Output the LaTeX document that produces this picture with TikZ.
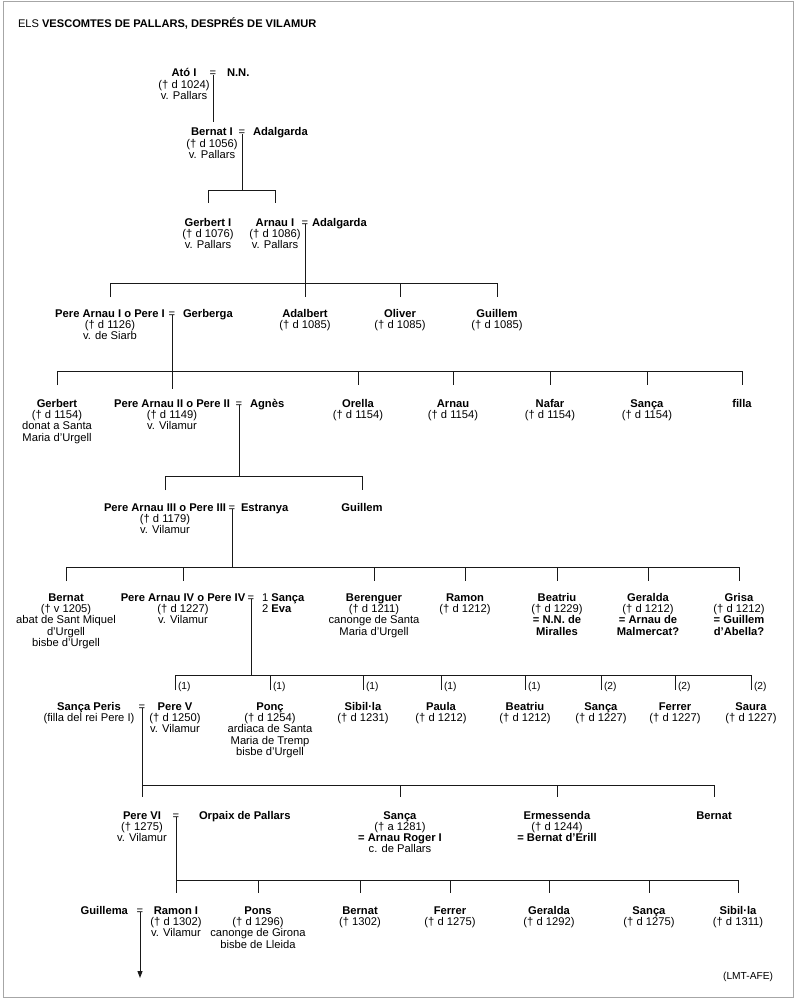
\documentclass[tikz,border=0pt]{standalone}
\usepackage{fontspec}
\setmainfont{Liberation Sans}
\usetikzlibrary{arrows.meta}
\newcommand\famblock[1]{\begin{tabular}[t]{@{}c@{}}#1\end{tabular}}
\newcommand\famleft[1]{\begin{tabular}[t]{@{}l@{}}#1\end{tabular}}
\begin{document}
\begin{tikzpicture}[x=1pt,y=-1pt,
  every node/.style={inner sep=0pt, outer sep=0pt, font=\fontsize{11.2}{11}\selectfont},
  pers/.style={anchor=base},
  spouse/.style={anchor=base west},
  eqs/.style={anchor=base},
  lab/.style={anchor=base west, font=\fontsize{10.2}{11}\selectfont},
  ln/.style={line width=1pt, black!90}]
\useasboundingbox (0,0) rectangle (800,1000);
\draw[black!35, line width=1pt] (3,2) rectangle (793,997);

\node[anchor=base west, font=\fontsize{11.1}{12}\selectfont] (title) at (18,28) {ELS \textbf{VESCOMTES DE PALLARS, DESPRÉS DE VILAMUR}};

% Row 1
\node[pers] (ato) at (184,77) {\famblock{\textbf{Ató I}\\(† d 1024)\\v. Pallars}};
\node[eqs] (eq1) at (213,77) {=};
\node[spouse] (nn) at (227,77) {\textbf{N.N.}};

% Row 2
\node[pers] (bernat1) at (212,136) {\famblock{\textbf{Bernat I}\\(† d 1056)\\v. Pallars}};
\node[eqs] (eq2) at (242,136) {=};
\node[spouse] (adal1) at (253,136) {\textbf{Adalgarda}};

% Row 3
\node[pers] (gerbert1) at (208,226) {\famblock{\textbf{Gerbert I}\\(† d 1076)\\v. Pallars}};
\node[pers] (arnau1) at (275,226) {\famblock{\textbf{Arnau I}\\(† d 1086)\\v. Pallars}};
\node[eqs] (eq3) at (305,226) {=};
\node[spouse] (adal2) at (312,226) {\textbf{Adalgarda}};

% Row 4
\node[pers] (pa1) at (110,317) {\famblock{\textbf{Pere Arnau I o Pere I}\\(† d 1126)\\v. de Siarb}};
\node[eqs] (eq4) at (172,317) {=};
\node[spouse] (gerberga) at (183,317) {\textbf{Gerberga}};
\node[pers] (adalbert) at (305,317) {\famblock{\textbf{Adalbert}\\(† d 1085)}};
\node[pers] (oliver) at (400,317) {\famblock{\textbf{Oliver}\\(† d 1085)}};
\node[pers] (guillem1) at (497,317) {\famblock{\textbf{Guillem}\\(† d 1085)}};

% Row 5
\node[pers] (gerbert) at (57,407) {\famblock{\textbf{Gerbert}\\(† d 1154)\\donat a Santa\\Maria d’Urgell}};
\node[pers] (pa2) at (172,407) {\famblock{\textbf{Pere Arnau II o Pere II}\\(† d 1149)\\v. Vilamur}};
\node[eqs] (eq5) at (239,407) {=};
\node[spouse] (agnes) at (250,407) {\textbf{Agnès}};
\node[pers] (orella) at (358,407) {\famblock{\textbf{Orella}\\(† d 1154)}};
\node[pers] (arnau) at (453,407) {\famblock{\textbf{Arnau}\\(† d 1154)}};
\node[pers] (nafar) at (550,407) {\famblock{\textbf{Nafar}\\(† d 1154)}};
\node[pers] (sanca1) at (647,407) {\famblock{\textbf{Sança}\\(† d 1154)}};
\node[pers] (filla) at (742,407) {\textbf{filla}};

% Row 6
\node[pers] (pa3) at (165,511) {\famblock{\textbf{Pere Arnau III o Pere III}\\(† d 1179)\\v. Vilamur}};
\node[eqs] (eq6) at (232,511) {=};
\node[spouse] (estranya) at (241,511) {\textbf{Estranya}};
\node[pers] (guillem2) at (362,511) {\textbf{Guillem}};

% Row 7
\node[pers] (bernat) at (66,601) {\famblock{\textbf{Bernat}\\(† v 1205)\\abat de Sant Miquel\\d’Urgell\\bisbe d’Urgell}};
\node[pers] (pa4) at (183,601) {\famblock{\textbf{Pere Arnau IV o Pere IV}\\(† d 1227)\\v. Vilamur}};
\node[eqs] (eq7) at (251,601) {=};
\node[spouse] (wives) at (262,601) {\famleft{1 \textbf{Sança}\\2 \textbf{Eva}}};
\node[pers] (berenguer) at (374,601) {\famblock{\textbf{Berenguer}\\(† d 1211)\\canonge de Santa\\Maria d’Urgell}};
\node[pers] (ramon) at (465,601) {\famblock{\textbf{Ramon}\\(† d 1212)}};
\node[pers] (beatriu1) at (557,601) {\famblock{\textbf{Beatriu}\\(† d 1229)\\\textbf{= N.N. de}\\\textbf{Miralles}}};
\node[pers] (geralda1) at (648,601) {\famblock{\textbf{Geralda}\\(† d 1212)\\\textbf{= Arnau de}\\\textbf{Malmercat?}}};
\node[pers] (grisa) at (739,601) {\famblock{\textbf{Grisa}\\(† d 1212)\\\textbf{= Guillem}\\\textbf{d’Abella?}}};

% Row 9
\node[pers] (sancap) at (89,710) {\famblock{\textbf{Sança Peris}\\(filla del rei Pere I)}};
\node[eqs] (eq8) at (142,710) {=};
\node[pers] (pere5) at (175,710) {\famblock{\textbf{Pere V}\\(† d 1250)\\v. Vilamur}};
\node[pers] (ponc) at (270,710) {\famblock{\textbf{Ponç}\\(† d 1254)\\ardiaca de Santa\\Maria de Tremp\\bisbe d’Urgell}};
\node[pers] (sibila1) at (363,710) {\famblock{\textbf{Sibil·la}\\(† d 1231)}};
\node[pers] (paula) at (441,710) {\famblock{\textbf{Paula}\\(† d 1212)}};
\node[pers] (beatriu2) at (525,710) {\famblock{\textbf{Beatriu}\\(† d 1212)}};
\node[pers] (sanca2) at (601,710) {\famblock{\textbf{Sança}\\(† d 1227)}};
\node[pers] (ferrer1) at (675,710) {\famblock{\textbf{Ferrer}\\(† d 1227)}};
\node[pers] (saura) at (751,710) {\famblock{\textbf{Saura}\\(† d 1227)}};

% marriage labels
\node[lab] (l1) at (178,689) {(1)};
\node[lab] (l2) at (273,689) {(1)};
\node[lab] (l3) at (366,689) {(1)};
\node[lab] (l4) at (444,689) {(1)};
\node[lab] (l5) at (528,689) {(1)};
\node[lab] (l6) at (604,689) {(2)};
\node[lab] (l7) at (678,689) {(2)};
\node[lab] (l8) at (754,689) {(2)};

% Row 10
\node[pers] (pere6) at (142,819) {\famblock{\textbf{Pere VI}\\(† 1275)\\v. Vilamur}};
\node[eqs] (eq9) at (176,819) {=};
\node[spouse] (orpaix) at (199,819) {\textbf{Orpaix de Pallars}};
\node[pers] (sanca3) at (400,819) {\famblock{\textbf{Sança}\\(† a 1281)\\\textbf{= Arnau Roger I}\\c. de Pallars}};
\node[pers] (ermessenda) at (557,819) {\famblock{\textbf{Ermessenda}\\(† d 1244)\\\textbf{= Bernat d'Erill}}};
\node[pers] (bernat2) at (714,819) {\textbf{Bernat}};

% Row 12
\node[anchor=base east] (guillema) at (128,914) {\textbf{Guillema}};
\node[eqs] (eq10) at (140,914) {=};
\node[pers] (ramon1) at (176,914) {\famblock{\textbf{Ramon I}\\(† d 1302)\\v. Vilamur}};
\node[pers] (pons) at (258,914) {\famblock{\textbf{Pons}\\(† d 1296)\\canonge de Girona\\bisbe de Lleida}};
\node[pers] (bernat3) at (360,914) {\famblock{\textbf{Bernat}\\(† 1302)}};
\node[pers] (ferrer2) at (450,914) {\famblock{\textbf{Ferrer}\\(† d 1275)}};
\node[pers] (geralda2) at (549,914) {\famblock{\textbf{Geralda}\\(† d 1292)}};
\node[pers] (sanca4) at (649,914) {\famblock{\textbf{Sança}\\(† d 1275)}};
\node[pers] (sibila2) at (738,914) {\famblock{\textbf{Sibil·la}\\(† d 1311)}};

\node[anchor=base east, font=\fontsize{10.2}{11}\selectfont] (lmt) at (773,979) {(LMT-AFE)};

% Connectors
\draw[ln] ([yshift=2pt]eq1.south) -- (eq1 |- 0,122);

\draw[ln] ([yshift=2pt]eq2.south) -- (eq2 |- 0,191);
\draw[ln] (gerbert1 |- 0,203) -- (gerbert1 |- 0,191) -- (arnau1 |- 0,191) -- (arnau1 |- 0,203);

\draw[ln] ([yshift=2pt]eq3.south) -- (eq3 |- 0,297);
\draw[ln] (pa1 |- 0,297) -- (pa1 |- 0,283) -- (guillem1 |- 0,283) -- (guillem1 |- 0,297);
\draw[ln] (oliver |- 0,283) -- (oliver |- 0,297);

\draw[ln] ([yshift=2pt]eq4.south) -- (eq4 |- 0,389);
\draw[ln] (gerbert |- 0,385) -- (gerbert |- 0,371) -- (filla |- 0,371) -- (filla |- 0,385);
\foreach \n in {orella,arnau,nafar,sanca1}
  \draw[ln] (\n |- 0,371) -- (\n |- 0,385);

\draw[ln] ([yshift=2pt]eq5.south) -- (eq5 |- 0,476);
\draw[ln] (pa3 |- 0,490) -- (pa3 |- 0,476) -- (guillem2 |- 0,476) -- (guillem2 |- 0,490);

\draw[ln] ([yshift=2pt]eq6.south) -- (eq6 |- 0,567);
\draw[ln] (bernat |- 0,581) -- (bernat |- 0,567) -- (grisa |- 0,567) -- (grisa |- 0,581);
\foreach \n in {pa4,berenguer,ramon,beatriu1,geralda1}
  \draw[ln] (\n |- 0,567) -- (\n |- 0,581);

\draw[ln] ([yshift=2pt]eq7.south) -- (eq7 |- 0,675);
\draw[ln] (pere5 |- 0,690) -- (pere5 |- 0,675) -- (saura |- 0,675) -- (saura |- 0,690);
\foreach \n in {ponc,sibila1,paula,beatriu2,sanca2,ferrer1}
  \draw[ln] (\n |- 0,675) -- (\n |- 0,690);

\draw[ln] ([yshift=2pt]eq8.south) -- (eq8 |- 0,797);
\draw[ln] (eq8 |- 0,785) -- (bernat2 |- 0,785) -- (bernat2 |- 0,797);
\foreach \n in {sanca3,ermessenda}
  \draw[ln] (\n |- 0,785) -- (\n |- 0,797);

\draw[ln] ([yshift=2pt]eq9.south) -- (eq9 |- 0,893);
\draw[ln] (eq9 |- 0,880) -- (sibila2 |- 0,880) -- (sibila2 |- 0,893);
\foreach \n in {pons,bernat3,ferrer2,geralda2,sanca4}
  \draw[ln] (\n |- 0,880) -- (\n |- 0,893);

\draw[ln, -{Triangle[length=7pt,width=5pt]}] ([yshift=2pt]eq10.south) -- (eq10 |- 0,978);
\end{tikzpicture}
\end{document}
